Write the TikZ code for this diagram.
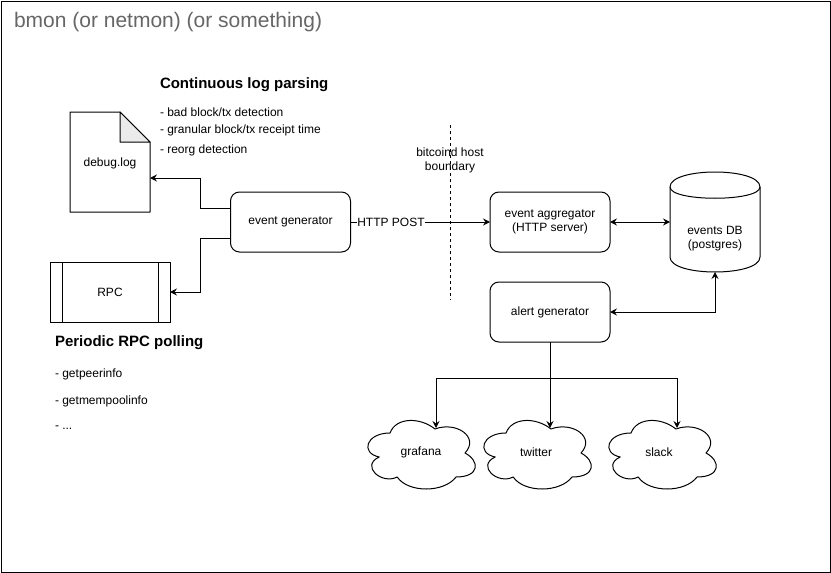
\documentclass[tikz,border=0pt]{standalone}
\usepackage{fontspec}
\setmainfont{Liberation Sans}
\usetikzlibrary{arrows.meta,calc}
\definecolor{titlegray}{HTML}{666666}
\definecolor{foldgray}{HTML}{EBEBEB}
\newcommand{\fsz}[1]{\fontsize{#1pt}{14pt}\selectfont}
\tikzset{
  every node/.style={inner sep=0pt, outer sep=0pt},
  box/.style={draw, line width=1pt, rounded corners=9pt, minimum width=120pt, minimum height=60pt, align=center, font=\fsz{12}},
  plain/.style={align=center, font=\fsz{12}},
  listitem/.style={anchor=west, font=\fsz{12}},
  heading/.style={anchor=west, font=\bfseries\fsz{15}},
  arr/.style={line width=1pt, -{Stealth[length=7pt,width=7pt,inset=2.5pt]}},
  darr/.style={line width=1pt, {Stealth[length=7pt,width=7pt,inset=2.5pt]}-{Stealth[length=7pt,width=7pt,inset=2.5pt]}},
  cloudpic/.pic={
    \draw[line width=1pt, line join=round] (30,20) .. controls (6,20) and (0,40) .. (19.2,44)
      .. controls (0,52.8) and (21.6,72) .. (37.2,64)
      .. controls (48,80) and (84,80) .. (96,64)
      .. controls (120,64) and (120,48) .. (105,40)
      .. controls (120,24) and (96,8) .. (75,16)
      .. controls (60,4) and (36,4) .. (30,20) -- cycle;
  }
}
\begin{document}
\begin{tikzpicture}[x=1pt,y=-1pt]
\useasboundingbox (0,0) rectangle (831,573);
% frame
\draw[line width=1pt] (1,1) rectangle (830,572);
\node[anchor=west, text=titlegray, font=\fsz{21}] (title) at (14,22) {bmon (or netmon) (or something)};

% debug.log document
\node[minimum width=80pt, minimum height=100pt, font=\fsz{12}] (doc) at (110,162) {};
\draw[line width=1pt, line join=round] (doc.north west) -- ($(doc.north east)+(-30,0)$) -- ($(doc.north east)+(0,30)$) -- (doc.south east) -- (doc.south west) -- cycle;
\draw[line width=1pt, line join=round, fill=foldgray] ($(doc.north east)+(-30,0)$) -- ($(doc.north east)+(-30,30)$) -- ($(doc.north east)+(0,30)$) -- cycle;
\node[plain] (doctext) at (110,163) {debug.log};

% RPC process
\node[draw, line width=1pt, minimum width=120pt, minimum height=60pt, font=\fsz{12}] (rpc) at (110,292) {RPC};
\draw[line width=1pt] ($(rpc.north west)+(12,0)$) -- ($(rpc.south west)+(12,0)$);
\draw[line width=1pt] ($(rpc.north east)+(-12,0)$) -- ($(rpc.south east)+(-12,0)$);

% boxes
\node[box] (eg) at (290.5,222) {event generator};
\node[box] (agg) at (550,222) {event aggregator\\(HTTP server)};
\node[box] (alert) at (550,312) {alert generator};

% DB cylinder
\node[minimum width=90pt, minimum height=100pt] (db) at (715,222) {};
\draw[line width=1pt] ($(db.north west)+(0,15)$) .. controls ($(db.north west)+(0,-5)$) and ($(db.north east)+(0,-5)$) .. ($(db.north east)+(0,15)$)
  -- ($(db.south east)+(0,-15)$) .. controls ($(db.south east)+(0,5)$) and ($(db.south west)+(0,5)$) .. ($(db.south west)+(0,-15)$) -- cycle;
\draw[line width=1pt] ($(db.north west)+(0,15)$) .. controls ($(db.north west)+(0,30)$) and ($(db.north east)+(0,30)$) .. ($(db.north east)+(0,15)$);
\node[plain] (dbtext) at (715,239) {events DB\\(postgres)};

% headings and lists
\node[heading] (h1) at (160,85) {Continuous log parsing};
\node[listitem] (l1) at (160,112) {- bad block/tx detection};
\node[listitem] (l2) at (160,130) {- granular block/tx receipt time};
\node[listitem] (l3) at (160,150) {- reorg detection};
\node[heading] (h2) at (55,343) {Periodic RPC polling};
\node[listitem] (p1) at (55,374) {- getpeerinfo};
\node[listitem] (p2) at (55,401) {- getmempoolinfo};
\node[listitem] (p3) at (55,428) {- ...};

% boundary
\coordinate (bt) at (450,125);
\coordinate (bb) at (450,300);
\draw[line width=1pt, dash pattern=on 3pt off 3pt] (bt) -- (bb);
\node[plain] (bnd) at (450,160) {bitcoind host\\boundary};

% clouds
\pic at (360,413) {cloudpic};
\pic at (476,413) {cloudpic};
\pic at (601,413) {cloudpic};
\node[plain] (grafana) at (421,452) {grafana};
\node[plain] (twitter) at (536,452) {twitter};
\node[plain] (slack) at (659,452) {slack};
\coordinate (gtop) at (436,428);
\coordinate (ttop) at (550,428);
\coordinate (stop) at (677,428);

% connectors
\draw[arr] ([yshift=14pt]eg.west) -- ++(-30,0) |- ([yshift=-16pt]doc.east);
\draw[arr] ([yshift=-16pt]eg.west) -- ++(-30,0) |- (rpc.east);
\draw[arr] (eg.east) -- node[pos=0.29, fill=white, inner xsep=0.5pt, inner ysep=1pt, font=\fsz{12}] {HTTP POST} (agg.west);
\draw[darr] (agg.east) -- (db.west);
\draw[darr] (db.south) |- (alert.east);
\draw[arr] (alert.south) -- ++(0,36) -| (gtop);
\draw[arr] (alert.south) -- (ttop);
\draw[arr] (alert.south) -- ++(0,36) -| (stop);
\end{tikzpicture}
\end{document}
